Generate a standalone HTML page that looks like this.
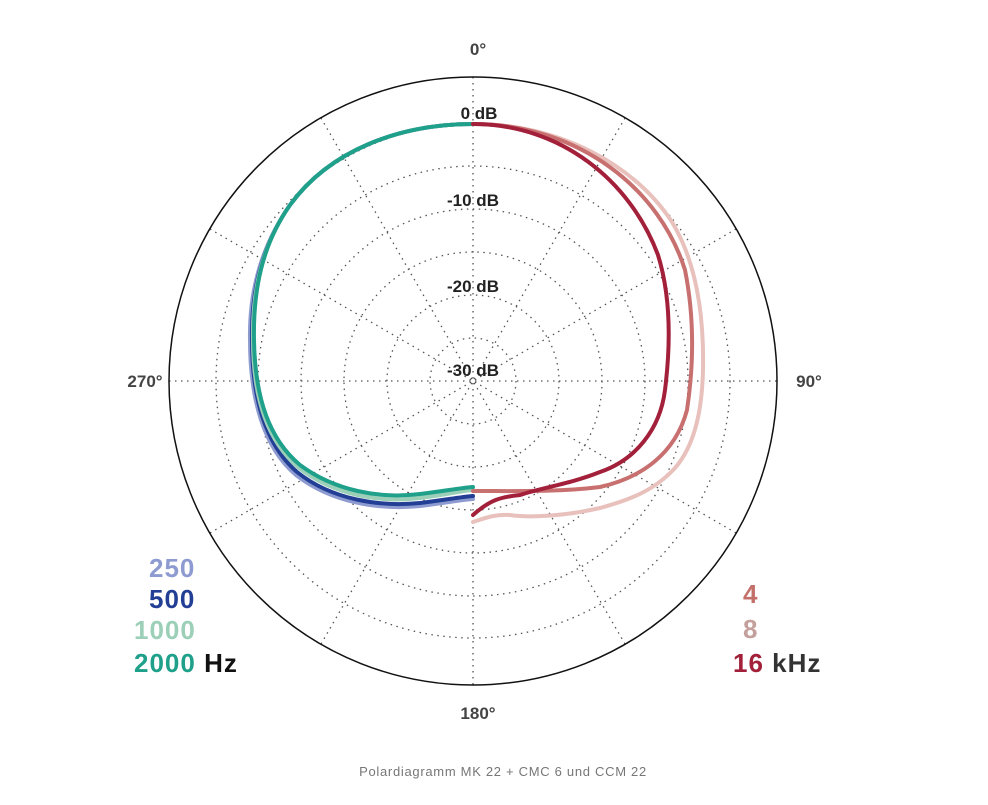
<!DOCTYPE html>
<html><head><meta charset="utf-8"><style>
body{margin:0;background:#fff;}
svg{display:block;font-family:"Liberation Sans","DejaVu Sans",sans-serif;}
</style></head><body>
<svg width="988" height="805" viewBox="0 0 988 805">
<g fill="none" stroke="#555" stroke-width="1.3" stroke-dasharray="1.5 4.5">
<circle cx="473" cy="381" r="43"/><circle cx="473" cy="381" r="86"/><circle cx="473" cy="381" r="129"/>
<circle cx="473" cy="381" r="172"/><circle cx="473" cy="381" r="215"/><circle cx="473" cy="381" r="257"/>
<line x1="473" y1="77" x2="473" y2="685"/><line x1="169" y1="381" x2="777" y2="381"/>
<line x1="321" y1="118" x2="625" y2="644"/><line x1="625" y1="118" x2="321" y2="644"/>
<line x1="210" y1="229" x2="736" y2="533"/><line x1="736" y1="229" x2="210" y2="533"/>
</g>
<circle cx="473" cy="381" r="304" fill="none" stroke="#111" stroke-width="1.5"/>
<g font-weight="bold" font-size="17" fill="#222" text-anchor="middle">
<text x="479" y="119">0 dB</text><text x="473" y="206">-10 dB</text>
<text x="473" y="292">-20 dB</text><text x="473" y="376">-30 dB</text>
</g>
<g font-size="17" font-weight="bold" fill="#444" text-anchor="middle">
<text x="478" y="55">0°</text><text x="809" y="387">90°</text>
<text x="478" y="719">180°</text><text x="145" y="387">270°</text>
</g>
<g fill="none" stroke-linecap="round" stroke-linejoin="round">
<path d="M473,124 C400,124 330,150 290,205 C262,245 249,290 250,340 C250,400 264,448 296,475 C332,503 380,510 420,506 C445,503 460,500 473,499" stroke="#8e9bd0" stroke-width="4"/>
<path d="M473,124 C400,124 330,150 290,205 C262,245 251,290 252,340 C252,400 266,445 297,472 C332,500 380,507 420,503 C445,500 460,497 473,496" stroke="#233f95" stroke-width="4"/>
<path d="M473,124 C400,124 330,150 290,205 C262,245 252,290 253,340 C253,400 268,442 299,468 C334,495 380,503 420,498 C445,495 460,491 473,490" stroke="#9ccfb8" stroke-width="4"/>
<path d="M473,124 C400,124 330,150 290,205 C262,245 253,290 254,340 C255,400 270,440 300,465 C335,491 380,499 420,494 C445,491 460,488 473,487" stroke="#1fa08a" stroke-width="4"/>
<path d="M473,124 C560,124 635,165 672,222 C698,265 704,320 703,370 C702,410 695,445 675,468 C655,490 630,500 600,508 C565,516 530,518 510,515 C495,514 485,518 473,522" stroke="#e8c0bc" stroke-width="4"/>
<path d="M473,124 C580,124 660,190 685,270 C695,320 693,370 687,410 C675,455 640,478 600,487 C560,492 520,491 473,491" stroke="#c87070" stroke-width="4"/>
<path d="M473,124 C560,124 630,180 658,255 C672,300 670,350 665,390 C660,430 635,460 600,472 C570,484 540,488 520,495 C500,497 490,500 473,515" stroke="#a3203a" stroke-width="4"/>
</g>
<g font-weight="bold" font-size="26" letter-spacing="1">
<text x="149" y="577" fill="#8e9bd0">250</text>
<text x="149" y="608" fill="#233f95">500</text>
<text x="134" y="639" fill="#9ccfb8">1000</text>
<text x="134" y="672" fill="#1fa08a">2000 <tspan fill="#111">Hz</tspan></text>
<text x="743" y="603" fill="#c4706a">4</text>
<text x="743" y="638" fill="#c4a09c">8</text>
<text x="733" y="672" fill="#a3203a">16 <tspan fill="#333">kHz</tspan></text>
</g>
<text x="503" y="776" font-size="13" letter-spacing="0.7" fill="#777" text-anchor="middle">Polardiagramm MK 22 + CMC 6 und CCM 22</text>
</svg>
</body></html>
